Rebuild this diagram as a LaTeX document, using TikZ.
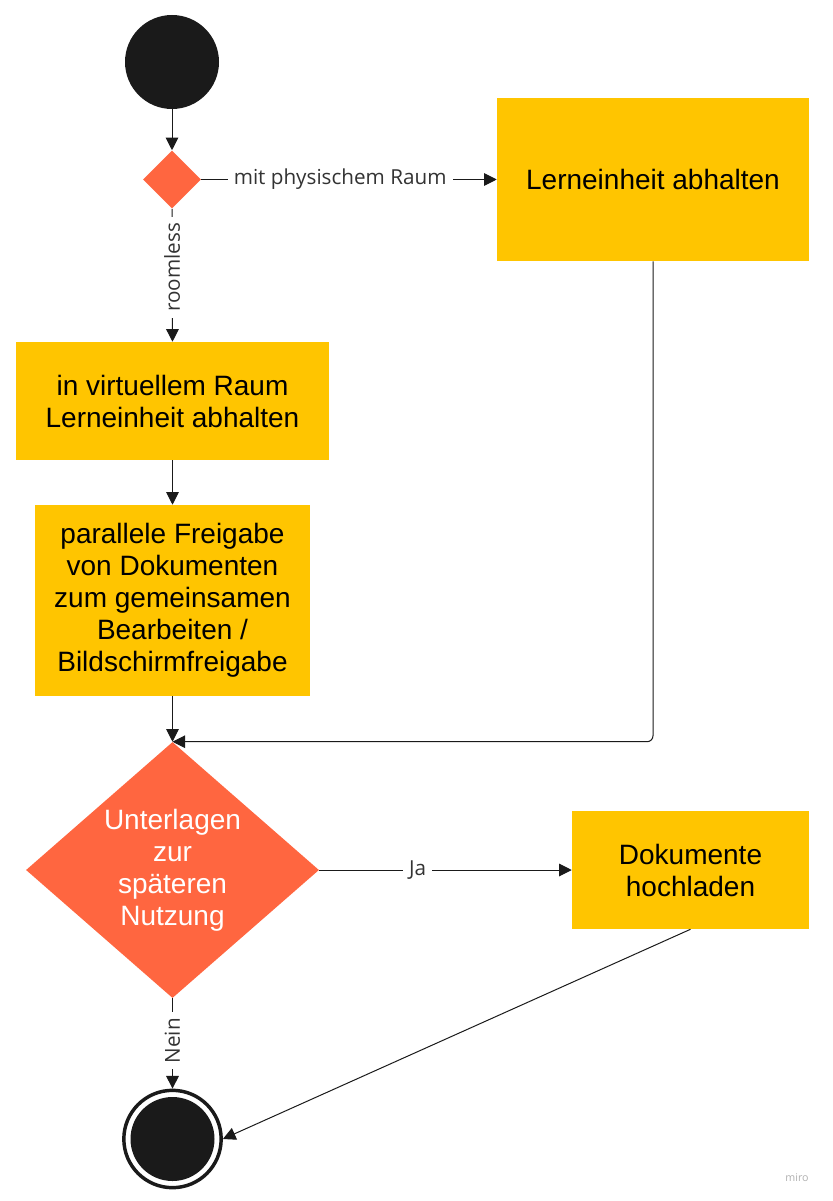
\documentclass[tikz,border=0pt]{standalone}
\usepackage{fontspec}
\setmainfont{Liberation Sans}
\newfontfamily\labelfont{Open Sans}
\usetikzlibrary{shapes.geometric,arrows.meta}
\definecolor{myyellow}{HTML}{FFC500}
\definecolor{myorange}{HTML}{FF6640}
\definecolor{myblack}{HTML}{1A1A1A}
\definecolor{labelgray}{HTML}{333333}
\definecolor{mirogray}{HTML}{B0B0B0}
\begin{document}
\begin{tikzpicture}[x=0.75pt,y=-0.75pt,
  box/.style={fill=myyellow, draw=none, align=center, inner sep=0pt,
    font=\fontsize{21}{24}\selectfont, text=black},
  decision/.style={diamond, fill=myorange, draw=none, inner sep=0pt, text=white},
  arr/.style={draw=myblack, line width=0.75pt, -{Triangle[length=9.5pt,width=9.5pt]}},
  conn/.style={draw=myblack, line width=0.75pt},
  lbl/.style={fill=white, inner sep=4.5pt, text=labelgray, font=\labelfont\fontsize{15.5}{18}\selectfont}
]
\useasboundingbox (0,0) rectangle (832,1201);

% nodes
\node[circle, fill=myblack, minimum size=70.5pt, inner sep=0pt] (start) at (172,62) {};
\node[decision, minimum width=43.5pt, minimum height=43.5pt] (d1) at (172,179.5) {};
\node[box, minimum width=234pt, minimum height=122.25pt] (box1) at (653,179.5) {Lerneinheit abhalten};
\node[box, minimum width=234.75pt, minimum height=88.5pt] (box2) at (172.5,401) {in virtuellem Raum\\Lerneinheit abhalten};
\node[box, minimum width=206.25pt, minimum height=143.25pt] (box3) at (172.5,600.5) {parallele Freigabe\\von Dokumenten\\zum gemeinsamen\\Bearbeiten /\\Bildschirmfreigabe};
\node[decision, minimum width=219.75pt, minimum height=192pt] (d2) at (172.5,870) {};
\node[align=center, text=white, font=\fontsize{21}{24}\selectfont] (d2text) at (d2.center) {Unterlagen\\zur\\späteren\\Nutzung};
\node[box, minimum width=177.75pt, minimum height=88.5pt] (box4) at (690.5,870) {Dokumente\\hochladen};
\node[circle, draw=myblack, line width=2.6pt, fill=white, minimum size=73pt, inner sep=0pt] (endc) at (172.5,1139) {};
\node[circle, fill=myblack, minimum size=63pt, inner sep=0pt] (endin) at (endc.center) {};
\node[text=mirogray, font=\labelfont\fontsize{8}{10}\selectfont] (miro) at (797,1178) {miro};

% connectors
\draw[arr] (start.south) -- (d1.north);
\draw[arr] (d1.east) -- node[lbl, pos=0.47] {mit physischem Raum} (box1.west);
\draw[arr] (d1.south) -- node[lbl, pos=0.44, rotate=90] {roomless} (box2.north);
\draw[arr] (box2.south) -- (box3.north);
\draw[arr] (box3.south) -- (d2.north);
\draw[arr, rounded corners=4.5pt] (box1.south) |- (d2.north);
\draw[arr] (d2.east) -- node[lbl, pos=0.39] {Ja} (box4.west);
\draw[arr] (d2.south) -- node[lbl, pos=0.47, rotate=90] {Nein} (endc.north);
\draw[arr] (box4.south) -- (endc.east);
\end{tikzpicture}
\end{document}
